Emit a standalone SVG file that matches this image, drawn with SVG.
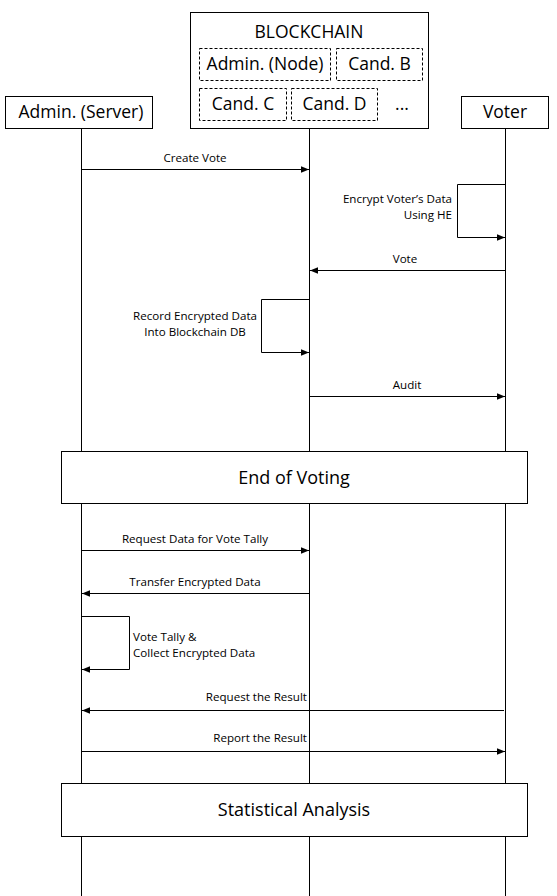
<svg xmlns="http://www.w3.org/2000/svg" width="557" height="896" viewBox="0 0 557 896">
<defs>
<marker id="ah" viewBox="0 0 8 8" refX="8" refY="4" markerWidth="8" markerHeight="8" markerUnits="userSpaceOnUse" orient="auto">
<path d="M0,0.8 L8,4 L0,7.2 Z" fill="#000"/>
</marker>
</defs>
<style>
.box{fill:#fff;stroke:#000;stroke-width:1}
.dbox{fill:#fff;stroke:#000;stroke-width:1;stroke-dasharray:3,2}
.life{stroke:#000;stroke-width:1;fill:none}
.msg{stroke:#000;stroke-width:1;fill:none;marker-end:url(#ah)}
.t{font-family:"Open Sans","Noto Sans",sans-serif;fill:#000}
.nt{font-size:17.5px}
.lt{font-size:11.6px}
.bt{font-size:18px}
</style>
<g id="lifelines">
<line class="life" x1="81.5" y1="128" x2="81.5" y2="896"/>
<line class="life" x1="309.5" y1="128" x2="309.5" y2="896"/>
<line class="life" x1="505.5" y1="128" x2="505.5" y2="896"/>
</g>
<g id="admin-server">
<rect class="box" x="5.5" y="96.5" width="147" height="32"/>
<text class="t nt" x="81" y="118" text-anchor="middle">Admin. (Server)</text>
</g>
<g id="blockchain">
<rect class="box" x="190.5" y="12.5" width="238" height="116"/>
<text class="t nt" x="309" y="38" text-anchor="middle">BLOCKCHAIN</text>
<rect class="dbox" x="199.5" y="48.5" width="131" height="32"/>
<text class="t nt" x="265" y="70" text-anchor="middle">Admin. (Node)</text>
<rect class="dbox" x="336.5" y="48.5" width="86" height="32"/>
<text class="t nt" x="379.5" y="70" text-anchor="middle">Cand. B</text>
<rect class="dbox" x="199.5" y="88.5" width="87" height="32"/>
<text class="t nt" x="243" y="110" text-anchor="middle">Cand. C</text>
<rect class="dbox" x="291.5" y="88.5" width="86" height="32"/>
<text class="t nt" x="334.5" y="110" text-anchor="middle">Cand. D</text>
<text class="t nt" x="402" y="110" text-anchor="middle">...</text>
</g>
<g id="voter">
<rect class="box" x="461.5" y="96.5" width="87" height="32"/>
<text class="t nt" x="505" y="118" text-anchor="middle">Voter</text>
</g>
<g id="connectors">
<line class="msg" x1="81.5" y1="169.5" x2="309" y2="169.5"/>
<text class="t lt" x="195" y="162" text-anchor="middle">Create Vote</text>
<polyline class="msg" points="505,184.5 457.5,184.5 457.5,237.5 505,237.5"/>
<text class="t lt" x="452" y="203" text-anchor="end">Encrypt Voter’s Data</text>
<text class="t lt" x="452" y="219" text-anchor="end">Using HE</text>
<line class="msg" x1="505" y1="270.5" x2="310" y2="270.5"/>
<text class="t lt" x="405" y="263" text-anchor="middle">Vote</text>
<polyline class="msg" points="309,299.5 261.5,299.5 261.5,352.5 309,352.5"/>
<text class="t lt" x="195" y="320" text-anchor="middle">Record Encrypted Data</text>
<text class="t lt" x="195" y="336" text-anchor="middle">Into Blockchain DB</text>
<line class="msg" x1="309.5" y1="396.5" x2="505" y2="396.5"/>
<text class="t lt" x="407" y="389" text-anchor="middle">Audit</text>
<line class="msg" x1="81.5" y1="550.5" x2="309" y2="550.5"/>
<text class="t lt" x="195" y="543" text-anchor="middle">Request Data for Vote Tally</text>
<line class="msg" x1="309" y1="593.5" x2="82" y2="593.5"/>
<text class="t lt" x="195" y="586" text-anchor="middle">Transfer Encrypted Data</text>
<polyline class="msg" points="82,616.5 129.5,616.5 129.5,669.5 82,669.5"/>
<text class="t lt" x="133" y="641">Vote Tally &amp;</text>
<text class="t lt" x="133" y="657">Collect Encrypted Data</text>
<line class="msg" x1="504" y1="710.5" x2="82" y2="710.5"/>
<text class="t lt" x="307" y="701" text-anchor="end">Request the Result</text>
<line class="msg" x1="81.5" y1="751.5" x2="505" y2="751.5"/>
<text class="t lt" x="307" y="742" text-anchor="end">Report the Result</text>
</g>
<g id="end-of-voting">
<rect class="box" x="61.5" y="451.5" width="466" height="52"/>
<text class="t bt" x="294" y="484" text-anchor="middle">End of Voting</text>
</g>
<g id="statistical-analysis">
<rect class="box" x="61.5" y="783.5" width="466" height="53"/>
<text class="t bt" x="294" y="816" text-anchor="middle">Statistical Analysis</text>
</g>
</svg>
